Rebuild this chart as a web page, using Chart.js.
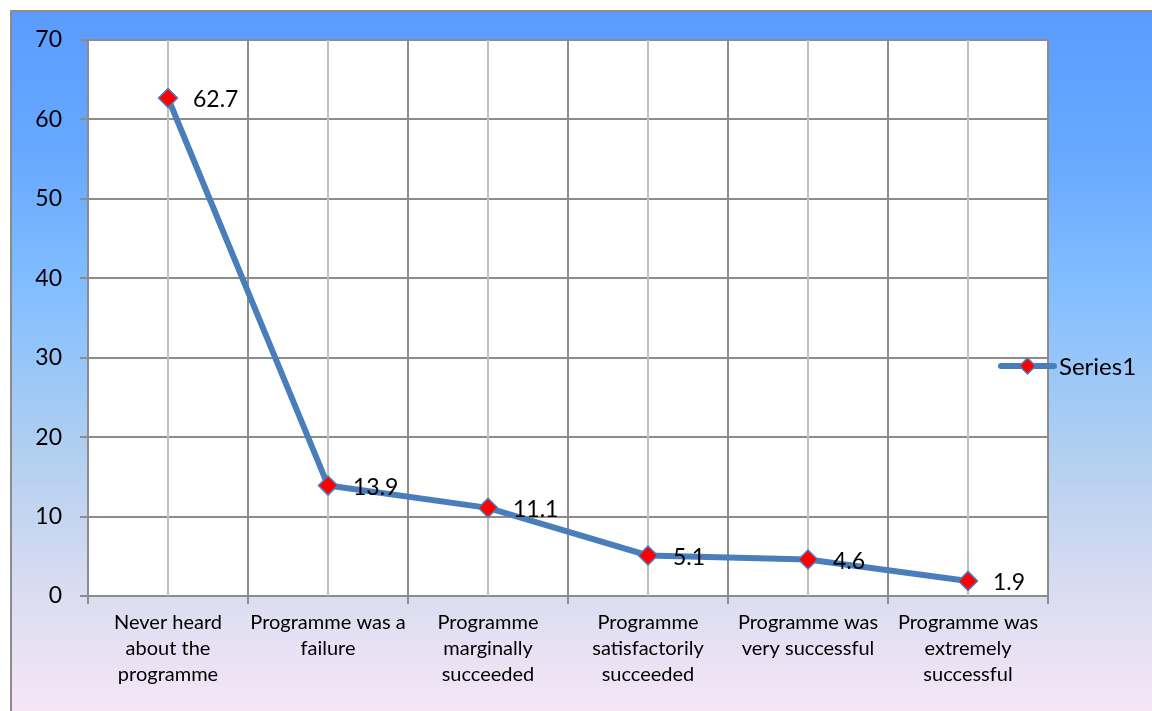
<!DOCTYPE html>
<html>
<head>
<meta charset="utf-8">
<script src="https://cdn.jsdelivr.net/npm/chart.js@4.4.1/dist/chart.umd.min.js"></script>
<style>
  html, body { margin: 0; padding: 0; background: #ffffff; }
  #wrap { width: 1152px; height: 711px; }
</style>
</head>
<body>
<div id="wrap"><canvas id="c" width="1152" height="711"></canvas></div>
<script>
// Survey responses: how the programme was perceived (percent)
const categories = [
  ["Never heard", "about the", "programme"],
  ["Programme was a", "failure"],
  ["Programme", "marginally", "succeeded"],
  ["Programme", "satisfactorily", "succeeded"],
  ["Programme was", "very successful"],
  ["Programme was", "extremely", "successful"]
];
const series1 = [62.7, 13.9, 11.1, 5.1, 4.6, 1.9];
const yTicks = [0, 10, 20, 30, 40, 50, 60, 70];

const FONT = "Lato, 'Open Sans', sans-serif";
const LINE = '#4A7EBB';
const GRID = '#8C8C8C';
const GRID_MINOR = '#C0C0C0';

// Frame, gradient background and white plot area
const backdrop = {
  id: 'backdrop',
  beforeDraw(chart) {
    const { ctx, width, height, chartArea: a } = chart;
    ctx.save();
    ctx.fillStyle = '#ffffff';
    ctx.fillRect(0, 0, width, height);
    const g = ctx.createLinearGradient(0, 10, 0, height);
    g.addColorStop(0.00, '#5B9BFF');
    g.addColorStop(0.20, '#67A8FF');
    g.addColorStop(0.41, '#84BFFF');
    g.addColorStop(0.63, '#B1CFF0');
    g.addColorStop(0.84, '#DCDDF1');
    g.addColorStop(1.00, '#F5E6F6');
    ctx.fillStyle = g;
    ctx.fillRect(10, 10, width - 10, height - 10);
    ctx.strokeStyle = GRID;
    ctx.lineWidth = 2;
    ctx.beginPath();
    ctx.moveTo(11, height);
    ctx.lineTo(11, 11);
    ctx.lineTo(width, 11);
    ctx.stroke();
    ctx.fillStyle = '#ffffff';
    ctx.fillRect(a.left, a.top, a.right - a.left, a.bottom - a.top);
    ctx.restore();
  }
};

// Lighter vertical lines through each category centre
const centreLines = {
  id: 'centreLines',
  beforeDatasetsDraw(chart) {
    const { ctx, chartArea: a, scales: { x } } = chart;
    ctx.save();
    ctx.strokeStyle = GRID_MINOR;
    ctx.lineWidth = 2;
    categories.forEach((_, i) => {
      const px = Math.round(x.getPixelForValue(i));
      ctx.beginPath();
      ctx.moveTo(px, a.top);
      ctx.lineTo(px, a.bottom);
      ctx.stroke();
    });
    ctx.restore();
  }
};

// Value labels to the right of each marker
const valueLabels = {
  id: 'valueLabels',
  afterDatasetsDraw(chart) {
    const { ctx } = chart;
    const meta = chart.getDatasetMeta(0);
    ctx.save();
    ctx.fillStyle = '#000000';
    ctx.font = `23px ${FONT}`;
    ctx.textAlign = 'left';
    ctx.textBaseline = 'middle';
    meta.data.forEach((pt, i) => {
      ctx.fillText(String(series1[i]), pt.x + 25, pt.y + 2);
    });
    ctx.restore();
  }
};

// Legend entry: line sample with marker and series name
const sideLegend = {
  id: 'sideLegend',
  afterDraw(chart) {
    const { ctx, chartArea: a } = chart;
    const ds = chart.data.datasets[0];
    const y = (a.top + a.bottom) / 2 + 48;
    const x0 = 1001, x1 = 1054, xm = (x0 + x1) / 2;
    ctx.save();
    ctx.strokeStyle = LINE;
    ctx.lineWidth = 6;
    ctx.lineCap = 'round';
    ctx.beginPath();
    ctx.moveTo(x0, y);
    ctx.lineTo(x1, y);
    ctx.stroke();
    ctx.fillStyle = '#FF0000';
    ctx.strokeStyle = LINE;
    ctx.lineWidth = 1.5;
    ctx.beginPath();
    ctx.moveTo(xm, y - 8);
    ctx.lineTo(xm + 8, y);
    ctx.lineTo(xm, y + 8);
    ctx.lineTo(xm - 8, y);
    ctx.closePath();
    ctx.fill();
    ctx.stroke();
    ctx.fillStyle = '#000000';
    ctx.font = `24px ${FONT}`;
    ctx.textAlign = 'left';
    ctx.textBaseline = 'middle';
    ctx.fillText(ds.label, 1059, y + 1);
    ctx.restore();
  }
};

new Chart(document.getElementById('c'), {
  type: 'line',
  data: {
    labels: categories,
    datasets: [{
      label: 'Series1',
      data: series1,
      borderColor: LINE,
      borderWidth: 6,
      tension: 0,
      pointStyle: 'rectRot',
      pointRadius: 9.5,
      pointHoverRadius: 9.5,
      pointBackgroundColor: '#FF0000',
      pointBorderColor: LINE,
      pointBorderWidth: 1.5
    }]
  },
  options: {
    responsive: false,
    animation: false,
    events: [],
    layout: { padding: { top: 40, right: 104, left: 0, bottom: 0 } },
    plugins: { legend: { display: false }, tooltip: { enabled: false } },
    scales: {
      x: {
        type: 'category',
        offset: true,
        grid: { offset: true, color: GRID, lineWidth: 2, tickLength: 8, drawTicks: true },
        border: { display: true, color: GRID, width: 2 },
        ticks: {
          color: '#000000',
          font: { family: FONT, size: 20, lineHeight: '26px' },
          maxRotation: 0, minRotation: 0, autoSkip: false, padding: 6
        },
        afterFit(scale) { scale.height = 115; }
      },
      y: {
        min: 0, max: 70,
        afterBuildTicks(scale) { scale.ticks = yTicks.map(v => ({ value: v })); },
        grid: { color: GRID, lineWidth: 2, tickLength: 8, drawTicks: true },
        border: { display: true, color: GRID, width: 2 },
        ticks: {
          color: '#000000',
          font: { family: FONT, size: 23 },
          padding: 18
        },
        afterFit(scale) { scale.width = 88; }
      }
    }
  },
  plugins: [backdrop, centreLines, valueLabels, sideLegend]
});
</script>
</body>
</html>
